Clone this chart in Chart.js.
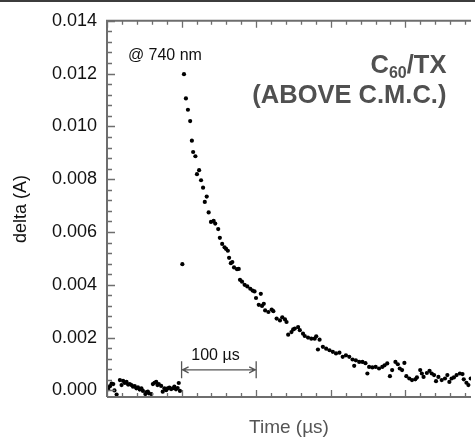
<!DOCTYPE html>
<html>
<head>
<meta charset="utf-8">
<script src="https://cdn.jsdelivr.net/npm/chart.js@4.4.0/dist/chart.umd.min.js"></script>
<style>
  html, body { margin: 0; padding: 0; background: #fff; }
</style>
</head>
<body>
<canvas id="decayChart" width="475" height="441"></canvas>
<script>
// transient absorption at 740 nm (time in µs, delta in A)
const timeUs = [
  1.7, 4, 6.2, 8.4, 10, 12.9, 17.3, 19.5, 21.6, 23.9, 26.2, 28.3, 30.5, 32.8, 34.9, 37.2,
  39.4, 41.5, 43.8, 46.1, 48.2, 51.4, 53.1, 54.8, 56.2, 59.4, 61.5, 63.7, 66, 67.7, 69.4,
  72.6, 74.7, 77, 79.3, 81.4, 83.6, 85.9, 88, 90.3, 92.5, 94.7, 96.2, 97.8,
  101, 103.2, 105.8, 108.5, 111.5, 113.8, 115.5, 118.5, 120.6, 123.5, 126.1, 128.8, 131.1,
  133.7, 136.3, 139.4, 143, 145.1, 149.1, 151.3, 154.4, 157.6, 159.7, 162, 163.7, 166, 168,
  170.3, 174.3, 176.6, 178.3, 181, 184.5, 188.1, 192.1, 195.2, 197.8, 199.8, 203.5, 206.2,
  207.8, 210.2, 212, 216.4, 220.8, 223, 227.4, 231.9, 235, 238.6, 240.7, 242.9, 247.3, 249.6,
  251.8, 256.2, 258.5, 262.8, 265.1, 269.5, 273.9, 278.4, 280.5, 282.8, 285, 289.4, 293.8,
  298.3, 302.7, 307, 311.6, 316, 320.3, 324.8, 329.2, 331.4, 333.6, 338.1, 342.5, 346.5,
  349.1, 351.4, 355.8, 360.2, 364.7, 369, 372.1, 375.7, 379.3, 382.3, 386.7, 389.9, 392.5,
  395.6, 398.7, 401.3, 405.3, 408.9, 413.3, 415.5, 419.9, 422.1, 424.4, 428.8, 432.4, 435.4,
  438.5, 441.1, 444.3, 448.7, 453.1, 456.3, 459, 462, 465.1, 468.7, 473.1, 476.6, 478.3,
  481.9, 484.5, 487.6
];
const deltaA = [
  0.00005, 0.00016, 0.00026, 0.00024, 0.0, -0.00016, 0.00039, 0.0002, 0.00036, 0.00028, 0.00032,
  0.00022, 0.00024, 0.0002, 0.00014, 0.00016, 0.00008, 0.00012, 0.00003, 0.00008, -0.00002,
  -0.00014, -0.00006, -0.00005, -0.00011, -0.00014, 0.00024, 0.00029, 0.00032, 0.0002, 0.00024,
  0.00017, -0.00005, 0.00008, 0.00001, 0.00008, 0.00011, 0.00005, 0.00008, 0.00014, 0.00004,
  0.00009, 0.00028, -0.00002,
  0.00478, 0.01198, 0.01106, 0.01063, 0.0102, 0.00946, 0.00903, 0.00887, 0.00819, 0.00834,
  0.00796, 0.00768, 0.00714, 0.00734, 0.00674, 0.00638, 0.00642, 0.00632, 0.00611, 0.00578,
  0.00555, 0.00542, 0.00536, 0.00529, 0.00502, 0.00482, 0.00486, 0.00466, 0.00459, 0.0046,
  0.00419, 0.00412, 0.004, 0.00394, 0.00385, 0.00378, 0.00375, 0.0035, 0.00324, 0.00366,
  0.0032, 0.00328, 0.00303, 0.00297, 0.00306, 0.003, 0.00272, 0.00265, 0.00277, 0.00269,
  0.00259, 0.00211, 0.00221, 0.00231, 0.00234, 0.0024, 0.00228, 0.00215, 0.00206, 0.002,
  0.00196, 0.00196, 0.00205, 0.00155, 0.00192, 0.00165, 0.00158, 0.00152, 0.00146, 0.0014,
  0.00143, 0.00127, 0.00133, 0.00127, 0.00117, 0.00093, 0.00114, 0.00108, 0.00108, 0.00103,
  0.00064, 0.00089, 0.00087, 0.00089, 0.00083, 0.00089, 0.00095, 0.00102, 0.00054, 0.00077,
  0.00108, 0.00099, 0.00083, 0.00077, 0.00104, 0.00054, 0.00045, 0.00039, 0.00042, 0.00049,
  0.00077, 0.00064, 0.00051, 0.00066, 0.00074, 0.00064, 0.00058, 0.00035, 0.00051, 0.00039,
  0.00045, 0.00058, 0.00032, 0.00045, 0.00049, 0.00058, 0.00064, 0.00062, 0.00042, 0.00029,
  0.0002, 0.00045
];

const yTickValues = [0, 0.002, 0.004, 0.006, 0.008, 0.010, 0.012, 0.014];
const xRange = [0, 488];
const yRange = [-0.00025, 0.014];
const scaleBarUs = [100, 200];
const scaleBarLabel = '100 µs';
const wavelengthLabel = '@ 740 nm';
const sampleLabel = ['C', '60', '/TX'];
const conditionLabel = '(ABOVE C.M.C.)';

const FONT = '"Liberation Sans", Arial, Helvetica, sans-serif';

// axis frame, inward ticks and the text notes
const framePlugin = {
    id: 'frameAndNotes',
    afterDraw(chart) {
        const ctx = chart.ctx;
        const area = chart.chartArea;
        const xs = chart.scales.x;
        const ys = chart.scales.y;

        ctx.save();
        ctx.fillStyle = '#3c3c3c';
        ctx.fillRect(0, 0, chart.width, 2);

        // axes
        ctx.strokeStyle = '#6e6e6e';
        ctx.lineWidth = 2;
        ctx.beginPath();
        ctx.moveTo(area.left, area.bottom);
        ctx.lineTo(area.left, area.top);
        ctx.lineTo(area.right, area.top);
        ctx.moveTo(area.left, area.bottom);
        ctx.lineTo(area.right, area.bottom);
        ctx.stroke();

        // x ticks every 20 µs, long every 100 µs
        ctx.lineWidth = 1.3;
        ctx.beginPath();
        for (let t = xRange[0]; t <= xRange[1]; t += 20) {
            const px = Math.round(xs.getPixelForValue(t)) + 0.5;
            const len = t % 100 === 0 ? 7 : 4;
            ctx.moveTo(px, area.top);
            ctx.lineTo(px, area.top + len);
            ctx.moveTo(px, area.bottom);
            ctx.lineTo(px, area.bottom - len);
        }
        // y ticks every 0.0004, long every 0.002
        for (let i = 0; i <= 35; i++) {
            const py = Math.round(ys.getPixelForValue(i * 0.0004)) + 0.5;
            const len = i % 5 === 0 ? 8 : 5;
            ctx.moveTo(area.left, py);
            ctx.lineTo(area.left + len, py);
        }
        ctx.stroke();

        // 100 µs scale bar
        const x1 = xs.getPixelForValue(scaleBarUs[0]);
        const x2 = xs.getPixelForValue(scaleBarUs[1]);
        const ym = ys.getPixelForValue(0.00078);
        ctx.strokeStyle = '#555';
        ctx.lineWidth = 1.3;
        ctx.beginPath();
        ctx.moveTo(x1, ym - 8.5);
        ctx.lineTo(x1, ym + 8.5);
        ctx.moveTo(x2, ym - 8.5);
        ctx.lineTo(x2, ym + 8.5);
        ctx.moveTo(x1, ym);
        ctx.lineTo(x2, ym);
        ctx.moveTo(x1 + 7, ym - 3);
        ctx.lineTo(x1 + 1, ym);
        ctx.lineTo(x1 + 7, ym + 3);
        ctx.moveTo(x2 - 7, ym - 3);
        ctx.lineTo(x2 - 1, ym);
        ctx.lineTo(x2 - 7, ym + 3);
        ctx.stroke();

        ctx.fillStyle = '#111';
        ctx.textBaseline = 'alphabetic';
        ctx.textAlign = 'left';
        ctx.font = '16px ' + FONT;
        ctx.fillText(scaleBarLabel, xs.getPixelForValue(113), ym - 9.5);
        ctx.fillText(wavelengthLabel, xs.getPixelForValue(28), ys.getPixelForValue(0.0125));

        // sample label with subscript, right aligned
        const right = xs.getPixelForValue(455);
        const base1 = ys.getPixelForValue(0.01204);
        const base2 = ys.getPixelForValue(0.01088);
        const bigFont = 'bold 25.5px ' + FONT;
        const subFont = 'bold 16px ' + FONT;
        ctx.fillStyle = '#505050';
        ctx.font = bigFont;
        const wC = ctx.measureText(sampleLabel[0]).width;
        const wTX = ctx.measureText(sampleLabel[2]).width;
        ctx.font = subFont;
        const wSub = ctx.measureText(sampleLabel[1]).width;
        let cx = right - (wC + wSub + wTX);
        ctx.font = bigFont;
        ctx.fillText(sampleLabel[0], cx, base1);
        cx += wC;
        ctx.font = subFont;
        ctx.fillText(sampleLabel[1], cx, base1 + 5.5);
        cx += wSub;
        ctx.font = bigFont;
        ctx.fillText(sampleLabel[2], cx, base1);
        ctx.textAlign = 'right';
        ctx.fillText(conditionLabel, right, base2);
        ctx.restore();
    }
};

const points = timeUs.map((t, i) => ({ x: t, y: deltaA[i] }));

const ctx = document.querySelector('#decayChart').getContext('2d');
new Chart(ctx, {
    type: 'scatter',
    data: {
        datasets: [{
            data: points,
            pointRadius: 2.1,
            pointBackgroundColor: '#000',
            pointBorderWidth: 0,
            showLine: false
        }]
    },
    options: {
        responsive: false,
        animation: false,
        devicePixelRatio: 1,
        layout: { padding: { top: 19, right: 0, bottom: 0, left: 0 } },
        plugins: {
            legend: { display: false },
            tooltip: { enabled: false }
        },
        scales: {
            x: {
                type: 'linear',
                min: xRange[0],
                max: xRange[1],
                grid: { display: false, drawTicks: false },
                border: { display: false },
                ticks: { display: false },
                title: {
                    display: true,
                    text: 'Time (µs)',
                    color: '#555',
                    font: { family: FONT, size: 19 },
                    padding: { top: 0, bottom: 2 }
                },
                afterFit: scale => { scale.height = 44; }
            },
            y: {
                type: 'linear',
                min: yRange[0],
                max: yRange[1],
                grid: { display: false, drawTicks: false },
                border: { display: false },
                afterBuildTicks: scale => {
                    scale.ticks = yTickValues.map(v => ({ value: v }));
                },
                ticks: {
                    padding: 10,
                    color: '#111',
                    font: { family: FONT, size: 18 },
                    callback: value => value.toFixed(3)
                },
                title: {
                    display: true,
                    text: 'delta (A)',
                    color: '#111',
                    font: { family: FONT, size: 18 },
                    padding: { top: 10, bottom: 0 }
                },
                afterFit: scale => { scale.width = 107; }
            }
        }
    },
    plugins: [framePlugin]
});
</script>
</body>
</html>
